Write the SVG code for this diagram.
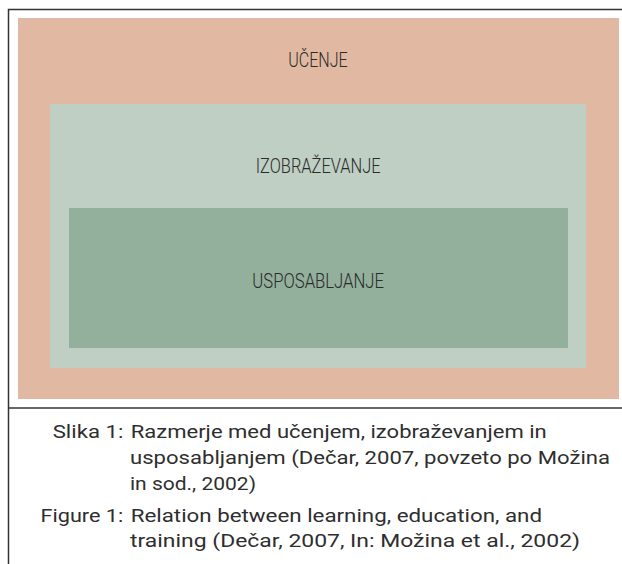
<svg xmlns="http://www.w3.org/2000/svg" width="622" height="564" viewBox="0 0 622 564">
<style>
.frame{stroke:#333;stroke-width:1.5;fill:none}
.lbl{font-family:Roboto,"Liberation Sans",sans-serif;font-weight:300;font-size:19.5px;fill:#2b2b2b;text-anchor:middle}
.cap{font-family:Roboto,"Liberation Sans",sans-serif;font-size:19px;fill:#2e2e2e}
</style>
<rect x="0" y="0" width="622" height="564" fill="#ffffff"/>
<g id="frame">
<path class="frame" d="M622,9.5 H8.5 V564"/>
<path class="frame" d="M8.5,408 H622"/>
</g>
<g id="ucenje">
<rect x="18" y="18" width="601" height="381" fill="#e1b9a2"/>
<text class="lbl" x="318" y="66.7" textLength="59.5" lengthAdjust="spacingAndGlyphs">UČENJE</text>
</g>
<g id="izobrazevanje">
<rect x="50" y="104" width="536" height="264" fill="#bfcfc4"/>
<text class="lbl" x="318.2" y="172.7" textLength="125" lengthAdjust="spacingAndGlyphs">IZOBRAŽEVANJE</text>
</g>
<g id="usposabljanje">
<rect x="69" y="208" width="499" height="140" fill="#92b09c"/>
<text class="lbl" x="318.2" y="288.3" textLength="131.7" lengthAdjust="spacingAndGlyphs">USPOSABLJANJE</text>
</g>
<g id="connectors"></g>
<g id="caption">
<text class="cap" x="52.7" y="437.5" textLength="70.6" lengthAdjust="spacingAndGlyphs">Slika 1:</text>
<text class="cap" x="130.7" y="437.5" textLength="416" lengthAdjust="spacingAndGlyphs">Razmerje med učenjem, izobraževanjem in</text>
<text class="cap" x="130" y="463.5" textLength="480" lengthAdjust="spacingAndGlyphs">usposabljanjem (Dečar, 2007, povzeto po Možina</text>
<text class="cap" x="130" y="489.5" textLength="126" lengthAdjust="spacingAndGlyphs">in sod., 2002)</text>
<text class="cap" x="40.5" y="521.5" textLength="82.8" lengthAdjust="spacingAndGlyphs">Figure 1:</text>
<text class="cap" x="130.7" y="521.5" textLength="411.3" lengthAdjust="spacingAndGlyphs">Relation between learning, education, and</text>
<text class="cap" x="130" y="547" textLength="450" lengthAdjust="spacingAndGlyphs">training (Dečar, 2007, In: Možina et al., 2002)</text>
</g>
</svg>
